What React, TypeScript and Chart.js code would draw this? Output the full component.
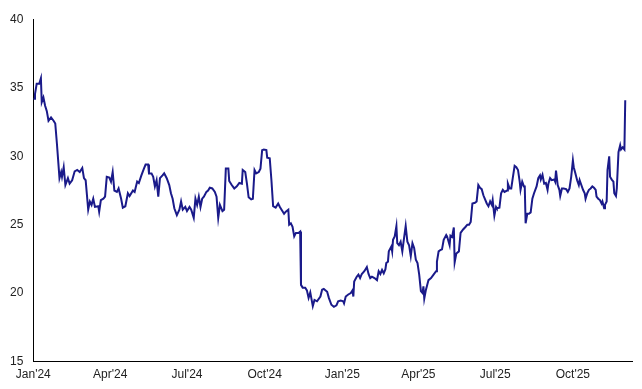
import React, { useEffect, useRef } from "react";
import { Chart, registerables } from "chart.js";

Chart.register(...registerables);

// Day index counted from 1 Jan 2024
const DAYS = [
  0, 1, 2, 4, 7, 9, 10, 12, 14, 16, 18, 21, 24, 26, 28, 31, 33, 34, 36, 38,
  41, 43, 46, 49, 52, 55, 58, 60, 62, 65, 67, 69, 71, 73, 77, 78, 80, 83, 85, 87,
  90, 92, 94, 96, 99, 101, 104, 106, 109, 112, 114, 118, 120, 123, 125, 128, 131, 133, 136, 137,
  140, 142, 144, 146, 148, 150, 153, 155, 158, 161, 163, 165, 167, 170, 173, 175, 177, 180, 182, 185,
  187, 190, 192, 194, 196, 198, 200, 202, 205, 207, 209, 212, 215, 217, 219, 221, 224, 226, 228, 231,
  232, 235, 238, 241, 244, 247, 248, 251, 253, 255, 258, 260, 262, 264, 267, 269, 271, 273, 276, 277,
  280, 282, 284, 287, 290, 292, 294, 297, 299, 302, 303, 305, 307, 309, 311, 314, 316, 317, 319, 322,
  324, 326, 328, 331, 333, 336, 340, 342, 344, 348, 350, 353, 356, 359, 361, 364, 367, 368, 370, 373,
  376, 378, 379, 380, 383, 385, 387, 389, 392, 395, 397, 399, 401, 404, 407, 409, 411, 413, 415, 417,
  418, 420, 421, 424, 425, 426, 428, 430, 431, 433, 435, 437, 439, 441, 443, 445, 447, 449, 451, 453,
  455, 457, 459, 461, 462, 463, 465, 468, 471, 474, 477, 478, 480, 482, 484, 486, 489, 490, 493, 494,
  496, 498, 499, 501, 504, 506, 509, 512, 514, 516, 518, 520, 523, 525, 527, 529, 531, 533, 535, 537,
  539, 541, 543, 544, 546, 548, 549, 552, 554, 556, 558, 561, 562, 564, 566, 568, 570, 572, 574, 576,
  577, 579, 581, 582, 583, 585, 587, 589, 591, 593, 596, 598, 600, 601, 603, 605, 607, 609, 610, 612,
  614, 617, 618, 619, 621, 623, 624, 626, 628, 631, 633, 635, 637, 639, 640, 642, 644, 646, 647, 649,
  651, 653, 654, 656, 658, 660, 662, 664, 666, 667, 669, 671, 673, 674, 676, 677, 679, 680, 682, 683,
  685, 687, 688, 690, 691, 693, 695, 696, 698, 700, 701,
];

const VALUES = [
  34.2, 34.2, 34.55, 35.3, 35.3, 35.7, 33.95, 34.3, 33.7, 33.3, 32.6, 32.85, 32.6, 32.4, 30.9, 28.4, 28.85, 28.5, 29.2, 27.9,
  28.4, 28.0, 28.25, 28.9, 29.0, 28.85, 29.15, 28.4, 28.25, 26.1, 26.7, 26.45, 26.9, 26.3, 26.35, 25.95, 26.8, 26.9, 27.05, 28.5,
  28.45, 28.15, 28.85, 27.5, 27.4, 27.65, 26.9, 26.25, 26.35, 27.3, 27.1, 27.5, 27.4, 28.15, 28.05, 28.6, 29.1, 29.4, 29.4, 28.75,
  28.75, 28.5, 27.8, 28.25, 27.05, 28.4, 28.6, 28.75, 28.4, 27.9, 27.3, 26.9, 26.2, 25.7, 26.1, 26.7, 26.1, 26.3, 26.0, 26.3,
  26.1, 25.5, 26.9, 26.45, 27.05, 26.3, 26.9, 27.05, 27.4, 27.5, 27.7, 27.65, 27.4, 27.05, 25.5, 26.45, 26.0, 26.1, 29.1, 29.1,
  28.2, 27.9, 27.65, 27.8, 28.05, 28.0, 29.0, 28.85, 28.0, 27.0, 26.85, 26.9, 29.0, 28.75, 28.85, 29.1, 30.45, 30.5, 30.45, 29.9,
  29.85, 28.25, 26.35, 26.25, 26.55, 26.3, 26.1, 25.8, 25.95, 26.1, 25.0, 25.1, 24.85, 24.15, 24.4, 24.4, 24.5, 20.6, 20.4, 20.4,
  20.2, 19.65, 20.05, 19.05, 19.5, 19.4, 19.75, 20.25, 20.3, 20.1, 19.65, 19.15, 19.0, 19.1, 19.4, 19.45, 19.4, 19.25, 19.75, 19.9,
  20.0, 20.2, 19.75, 20.85, 21.2, 21.35, 21.1, 21.4, 21.6, 21.9, 21.4, 21.1, 21.2, 21.1, 20.95, 21.6, 21.4, 21.7, 21.45, 21.75,
  22.2, 22.3, 23.05, 23.4, 23.05, 23.9, 24.15, 24.9, 23.65, 23.5, 23.75, 23.05, 24.0, 24.9, 23.75, 23.5, 22.7, 23.65, 23.3, 22.45,
  22.2, 21.35, 20.15, 20.0, 20.5, 19.6, 20.25, 20.95, 21.1, 21.35, 21.6, 22.3, 23.05, 23.15, 23.2, 23.9, 24.25, 24.15, 23.5, 24.2,
  24.1, 24.8, 22.25, 22.9, 23.05, 24.4, 24.65, 24.85, 25.0, 25.0, 25.2, 26.55, 26.6, 26.7, 27.9, 27.7, 27.6, 27.15, 26.85, 26.55,
  26.35, 26.7, 26.45, 26.8, 25.65, 26.3, 26.2, 26.25, 27.3, 27.55, 27.4, 27.5, 28.0, 27.65, 27.65, 28.5, 29.3, 29.2, 29.0, 28.15,
  27.55, 28.15, 27.8, 27.8, 25.1, 25.8, 25.8, 25.9, 26.9, 27.3, 27.8, 28.4, 28.6, 28.3, 28.65, 28.0, 28.05, 27.55, 28.0, 28.4,
  28.25, 28.3, 28.15, 28.95, 27.9, 27.55, 27.1, 27.65, 27.65, 27.6, 27.4, 27.65, 28.5, 29.7, 29.2, 28.75, 28.25, 27.9, 28.25, 27.9,
  27.55, 27.3, 26.9, 27.3, 27.55, 27.65, 27.8, 27.7, 27.55, 27.05, 26.9, 26.8, 26.55, 26.7, 26.2, 26.45, 26.7, 29.0, 30.0, 28.5,
  28.3, 28.15, 27.3, 27.1, 27.65, 30.3, 30.8, 30.5, 30.65, 30.5, 34.1,
];

const QUARTER_DAYS = [0, 91, 182, 274, 366, 456, 547, 639];
const QUARTER_LABELS = ["Jan'24", "Apr'24", "Jul'24", "Oct'24", "Jan'25", "Apr'25", "Jul'25", "Oct'25"];

const Y_MIN = 15;
const Y_MAX = 40;
const Y_STEP = 5;
const X_MAX_DAY = 709;

export default function App() {
  const ref = useRef<HTMLCanvasElement | null>(null);

  useEffect(() => {
    document.body.style.margin = "0";
    const canvas = ref.current;
    if (!canvas) return;
    const font = { family: "'Liberation Sans', Arial, sans-serif", size: 12 };
    const chart = new Chart(canvas, {
      type: "line",
      data: {
        datasets: [
          {
            data: DAYS.map((d, i) => ({ x: d, y: VALUES[i] })),
            borderColor: "#1a1a8a",
            borderWidth: 2,
            pointRadius: 0,
            fill: false,
            tension: 0,
          },
        ],
      },
      options: {
        animation: false,
        responsive: false,
        maintainAspectRatio: false,
        layout: { padding: { top: 19.5, right: 10, left: 0, bottom: 0 } },
        plugins: { legend: { display: false }, tooltip: { enabled: false } },
        scales: {
          x: {
            type: "linear",
            min: 0,
            max: X_MAX_DAY,
            grid: { display: false, drawTicks: false },
            border: { display: true, color: "#000", width: 1 },
            ticks: {
              padding: 6,
              color: "#222",
              font,
              autoSkip: false,
              maxRotation: 0,
              callback: (v: any) => {
                const idx = QUARTER_DAYS.indexOf(Number(v));
                return idx >= 0 ? QUARTER_LABELS[idx] : "";
              },
            },
            afterBuildTicks: (axis: any) => {
              axis.ticks = QUARTER_DAYS.map((v) => ({ value: v }));
            },
            afterFit: (s: any) => {
              s.height = 27.5;
            },
          },
          y: {
            min: Y_MIN,
            max: Y_MAX,
            grid: { display: false, drawTicks: false },
            border: { display: true, color: "#000", width: 1 },
            ticks: { stepSize: Y_STEP, padding: 10, color: "#222", font },
            afterFit: (s: any) => {
              s.width = 33.3;
            },
          },
        },
      },
    });
    return () => chart.destroy();
  }, []);

  return (
    <div style={{ position: "absolute", left: 0, top: 0, width: 642, height: 389 }}>
      <canvas ref={ref} width={642} height={389} style={{ display: "block", width: 642, height: 389 }} />
    </div>
  );
}
